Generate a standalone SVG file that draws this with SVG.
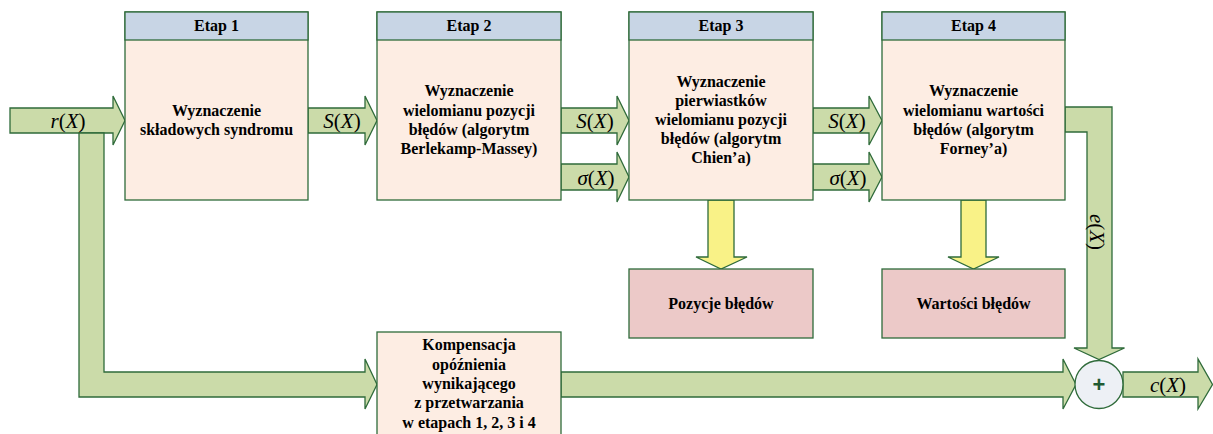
<svg xmlns="http://www.w3.org/2000/svg" width="1213" height="434" viewBox="0 0 1213 434">
<style>
.arr{fill:#cbdba9;stroke:#2f6b3a;stroke-width:1.3;stroke-linejoin:miter}
.yarr{fill:#f9f287;stroke:#2f6b3a;stroke-width:1.3}
.hdr{fill:#c8d5e5;stroke:#2f6b3a;stroke-width:1.3}
.body{fill:#fdede3;stroke:#2f6b3a;stroke-width:1.3}
.pink{fill:#ecc9c8;stroke:#2f6b3a;stroke-width:1.3}
.t{font-family:"Liberation Serif","Times New Roman",serif;font-weight:bold;font-size:16px;fill:#000;text-anchor:middle}
.lbl{font-family:"Liberation Serif","Times New Roman",serif;font-size:21px;fill:#000;text-anchor:middle}
.i{font-style:italic}
</style>
<g id="connectors">
<polygon class="arr" points="10,108 113,108 113,96 125,120.5 113,145 113,133 10,133"/>
<polygon class="arr" points="79,133 104,133 104,372 365,372 365,359 377,384.5 365,409 365,397 79,397"/>
<polygon class="arr" points="308,108 365,108 365,96 377,120.5 365,145 365,133 308,133"/>
<polygon class="arr" points="561,108 617,108 617,96 629,120.5 617,145 617,133 561,133"/>
<polygon class="arr" points="561,164 617,164 617,152 629,177 617,202 617,190 561,190"/>
<polygon class="arr" points="813,108 869,108 869,96 882,120.5 869,145 869,133 813,133"/>
<polygon class="arr" points="813,164 869,164 869,152 882,177 869,202 869,190 813,190"/>
<polygon class="arr" points="1065,107 1112,107 1112,348 1124.5,348 1099,359.5 1074,348 1087,348 1087,132 1065,132"/>
<polygon class="arr" points="561,372 1063,372 1063,359 1076,384.5 1063,409 1063,397 561,397"/>
<polygon class="arr" points="1123,372 1198,372 1198,359 1212.5,384.5 1198,409 1198,397 1123,397"/>
<polygon class="yarr" points="708,200 734,200 734,257 747,257 721,269 696,257 708,257"/>
<polygon class="yarr" points="961,200 986,200 986,257 999,257 973.5,269 948,257 961,257"/>
<text class="lbl" x="68" y="128"><tspan class="i">r</tspan>(<tspan class="i">X</tspan>)</text>
<text class="lbl" x="342" y="128"><tspan class="i">S</tspan>(<tspan class="i">X</tspan>)</text>
<text class="lbl" x="595" y="128"><tspan class="i">S</tspan>(<tspan class="i">X</tspan>)</text>
<text class="lbl" x="596" y="185"><tspan class="i">σ</tspan>(<tspan class="i">X</tspan>)</text>
<text class="lbl" x="847" y="128"><tspan class="i">S</tspan>(<tspan class="i">X</tspan>)</text>
<text class="lbl" x="848" y="185"><tspan class="i">σ</tspan>(<tspan class="i">X</tspan>)</text>
<text class="lbl" x="1168" y="392"><tspan class="i">c</tspan>(<tspan class="i">X</tspan>)</text>
<text class="lbl" transform="translate(1097,232) rotate(90)" x="0" y="7"><tspan class="i">e</tspan>(<tspan class="i">X</tspan>)</text>
</g>
<g id="etap1">
<rect class="body" x="125" y="12" width="183" height="188"/>
<rect class="hdr" x="125" y="12" width="183" height="28"/>
<text class="t" x="216.5" y="31">Etap 1</text>
<text class="t" x="216.5" y="116">Wyznaczenie</text>
<text class="t" x="216.5" y="134.5">składowych syndromu</text>
</g>
<g id="etap2">
<rect class="body" x="377" y="12" width="184" height="188"/>
<rect class="hdr" x="377" y="12" width="184" height="28"/>
<text class="t" x="469" y="31">Etap 2</text>
<text class="t" x="469" y="96">Wyznaczenie</text>
<text class="t" x="469" y="115.5">wielomianu pozycji</text>
<text class="t" x="469" y="134.5">błędów (algorytm</text>
<text class="t" x="469" y="154">Berlekamp-Massey)</text>
</g>
<g id="etap3">
<rect class="body" x="629" y="12" width="184" height="188"/>
<rect class="hdr" x="629" y="12" width="184" height="28"/>
<text class="t" x="721" y="31">Etap 3</text>
<text class="t" x="721" y="86.5">Wyznaczenie</text>
<text class="t" x="721" y="105.5">pierwiastków</text>
<text class="t" x="721" y="125">wielomianu pozycji</text>
<text class="t" x="721" y="144">błędów (algorytm</text>
<text class="t" x="721" y="163">Chien’a)</text>
</g>
<g id="etap4">
<rect class="body" x="882" y="12" width="183" height="188"/>
<rect class="hdr" x="882" y="12" width="183" height="28"/>
<text class="t" x="973.5" y="31">Etap 4</text>
<text class="t" x="973.5" y="96">Wyznaczenie</text>
<text class="t" x="973.5" y="115.5">wielomianu wartości</text>
<text class="t" x="973.5" y="134.5">błędów (algorytm</text>
<text class="t" x="973.5" y="154">Forney’a)</text>
</g>
<g id="pozycje">
<rect class="pink" x="629" y="269" width="184" height="69"/>
<text class="t" x="721" y="309">Pozycje błędów</text>
</g>
<g id="wartosci">
<rect class="pink" x="882" y="269" width="183" height="69"/>
<text class="t" x="973.5" y="309">Wartości błędów</text>
</g>
<g id="kompensacja">
<rect class="body" x="377" y="332" width="184" height="110"/>
<text class="t" x="469" y="350">Kompensacja</text>
<text class="t" x="469" y="370">opóźnienia</text>
<text class="t" x="469" y="389">wynikającego</text>
<text class="t" x="469" y="408">z przetwarzania</text>
<text class="t" x="469" y="428">w etapach 1, 2, 3 i 4</text>
</g>
<g id="sum">
<circle cx="1099" cy="384.5" r="24" fill="#edf0f5" stroke="#2f6b3a" stroke-width="1.3"/>
<text x="1099" y="392" font-family="'Liberation Sans',Arial,sans-serif" font-weight="bold" font-size="22" fill="#1f5a32" text-anchor="middle">+</text>
</g>
</svg>
